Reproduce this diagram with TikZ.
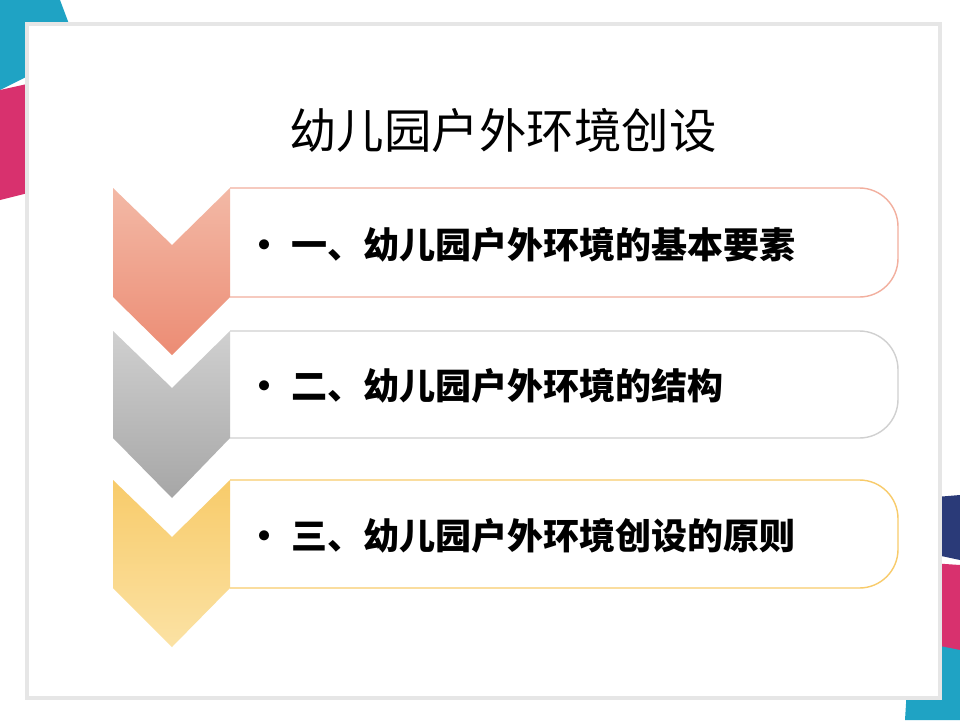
\documentclass[tikz,border=0pt]{standalone}
\usepackage{fontspec}
\setmainfont{Noto Sans CJK SC}
\newfontfamily\cjk{Noto Sans CJK SC}
\usetikzlibrary{positioning}
\definecolor{salmon}{HTML}{EC8C74}
\definecolor{salmonlt}{HTML}{F3B9A6}
\definecolor{greyd}{HTML}{A6A6A6}
\definecolor{greyl}{HTML}{D0D0D0}
\definecolor{gold}{HTML}{F8CB6A}
\definecolor{goldlt}{HTML}{FBE2A4}
\definecolor{frame}{HTML}{E6E6E6}
\definecolor{splcyan}{HTML}{1FA3C4}
\definecolor{splpink}{HTML}{D8316E}
\definecolor{splnavy}{HTML}{2A3A78}

\begin{document}
\begin{tikzpicture}[x=0.02cm, y=-0.02cm,
    itembox/.style={draw, fill=white, line width=0.8pt},
    itemtext/.style={anchor=west, font=\cjk\bfseries\fontsize{20.5}{23}\selectfont}
]
    % Page and frame
    \useasboundingbox (0,0) rectangle (960,720);
    \fill[white] (0,0) rectangle (960,720);
    % Paint splashes
    \fill[splcyan] (0,0) -- (60,0) -- (75,40) -- (40,70) -- (0,90) -- cycle;
    \fill[splpink] (0,90) -- (45,80) -- (85,140) -- (60,185) -- (0,200) -- cycle;
    \fill[splnavy] (900,500) -- (960,495) -- (960,560) -- (890,545) -- cycle;
    \fill[splpink] (885,560) -- (960,565) -- (960,660) -- (900,640) -- cycle;
    \fill[splcyan] (910,640) -- (960,650) -- (960,720) -- (905,720) -- cycle;
    \draw[frame, line width=2.5pt, fill=white] (27,24) rectangle (940,698);

    % Title
    \node[font=\cjk\fontsize{27}{30}\selectfont] (title) at (503,130) {幼儿园户外环境创设};

    % Boxes
    \draw[itembox, draw=salmon!70] (230,188) [rounded corners=22pt] -- (898,188) -- (898,297) [sharp corners] -- (230,297);
    \draw[itembox, draw=greyl] (230,331) [rounded corners=22pt] -- (898,331) -- (898,438) [sharp corners] -- (230,438);
    \draw[itembox, draw=gold] (230,480) [rounded corners=22pt] -- (898,480) -- (898,588) [sharp corners] -- (230,588);

    % Chevrons
    \shade[top color=salmonlt, bottom color=salmon]
        (113,188) -- (172,245) -- (230,188) -- (230,297) -- (172,355) -- (113,297) -- cycle;
    \shade[top color=greyl, bottom color=greyd]
        (113,331) -- (172,388) -- (230,331) -- (230,438) -- (172,498) -- (113,438) -- cycle;
    \shade[top color=gold, bottom color=goldlt]
        (113,480) -- (172,537) -- (230,480) -- (230,588) -- (172,647) -- (113,588) -- cycle;

    % Items
    \node[itemtext] (one) at (240,245) {•\hspace{0.25em}一、幼儿园户外环境的基本要素};
    \node[itemtext] (two) at (240,386) {•\hspace{0.25em}二、幼儿园户外环境的结构};
    \node[itemtext] (three) at (240,536) {•\hspace{0.25em}三、幼儿园户外环境创设的原则};
\end{tikzpicture}
\end{document}
